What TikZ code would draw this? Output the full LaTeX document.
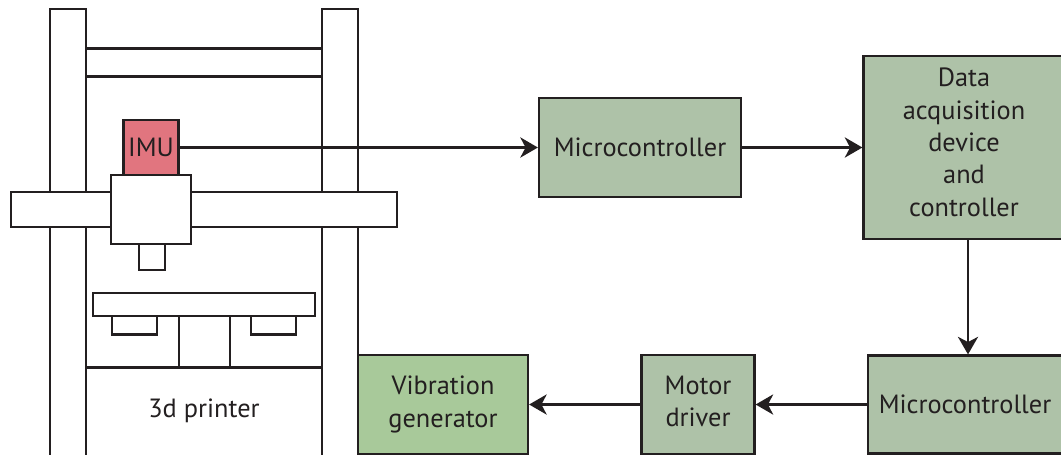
\documentclass[tikz,border=0pt]{standalone}
\usepackage{fontspec}
\setmainfont{PT Sans}
\usepackage{tikz}
\usetikzlibrary{arrows.meta}
\definecolor{inkline}{HTML}{231F20}
\definecolor{blockgreen}{HTML}{AEC2A8}
\definecolor{vibgreen}{HTML}{A8C99A}
\definecolor{imured}{HTML}{E1757F}
\tikzset{
  part/.style={draw=inkline,line width=1.3pt,fill=white},
  blockbox/.style={draw=inkline,line width=1.3pt,fill=blockgreen,inner sep=0pt,align=center,text=inkline,
    font=\fontsize{15}{18.4}\selectfont},
  flow/.style={draw=inkline,line width=1.3pt,-{Stealth[length=10pt,width=11.5pt,inset=3pt]}},
}

\begin{document}
\begin{tikzpicture}[x=0.02cm,y=-0.02cm]
  \useasboundingbox (0,0) rectangle (1061,454);
  % frame of the printer
  \draw[part] (50,470) -- (50,9) -- (86,9) -- (86,470);
  \draw[part] (322,470) -- (322,9) -- (358,9) -- (358,470);
  \draw[part] (86,48.5) rectangle (322,76.5);
  \draw[part] (86,367.5) -- (322,367.5);
  % bed
  \draw[part] (179,316) rectangle (230,367.5);
  \draw[part] (112,316) rectangle (157,334.5);
  \draw[part] (251,316) rectangle (296,334.5);
  \draw[part] (93,293) rectangle (315,316);
  \node[text=inkline,font=\fontsize{15}{18.4}\selectfont] (printer) at (204,411) {3d printer};
  % blocks
  \node[blockbox,fill=imured,minimum width=1.1cm,minimum height=1.1cm] (imu) at (151,147.5) {IMU};
  \node[blockbox,minimum width=4.04cm,minimum height=1.98cm] (mc1) at (640,147.5) {Microcontroller};
  \node[blockbox,minimum width=4.02cm,minimum height=3.66cm] (daq) at (964,147.5)
    {Data\\acquisition\\device\\and\\controller\\[-12.2pt]};
  \node[blockbox,minimum width=3.88cm,minimum height=1.96cm] (mc3) at (965,404.5) {Microcontroller};
  \node[blockbox,minimum width=2.26cm,minimum height=1.99cm] (motor) at (698,404.5) {Motor\\driver\\[-15pt]};
  \node[blockbox,fill=vibgreen,minimum width=3.4cm,minimum height=1.99cm] (vib) at (443,404.5) {Vibration\\generator\\[-15pt]};
  \coordinate (drop) at (968,300);
  % connections
  \draw[flow] (imu) -- (mc1);
  \draw[flow] (mc1) -- (daq);
  \draw[flow] (daq.south -| drop) -- (mc3.north -| drop);
  \draw[flow] (mc3) -- (motor);
  \draw[flow] (motor) -- (vib);
  % moving head
  \draw[part] (11,192) rectangle (397,227);
  \draw[part] (139,244) rectangle (165,270);
  \draw[part] (111,175) rectangle (191,244);
\end{tikzpicture}
\end{document}
